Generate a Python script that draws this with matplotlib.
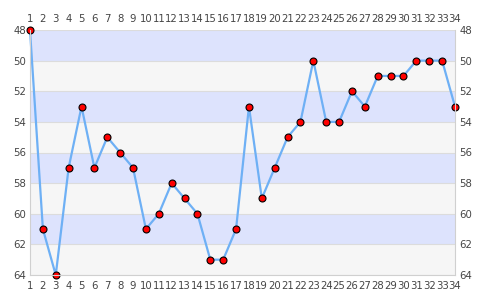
import matplotlib
matplotlib.use("Agg")
import matplotlib.pyplot as plt

x_vals = list(range(1, 35))
y_vals = [48, 61, 64, 57, 53, 57, 55, 56, 57, 61, 60, 58, 59, 60, 63, 63, 61,
          53, 59, 57, 55, 54, 50, 54, 54, 52, 53, 51, 51, 51, 50, 50, 50, 53]
y_ticks = [48, 50, 52, 54, 56, 58, 60, 62, 64]

fig = plt.figure(figsize=(4.85, 3.0), dpi=100)
ax = fig.add_axes([30/485, 25/300, 425/485, 245/300])

# alternating bands
for i in range(len(y_ticks) - 1):
    col = '#dde3fd' if i % 2 == 0 else '#f6f6f6'
    ax.axhspan(y_ticks[i], y_ticks[i+1], color=col, zorder=0, lw=0)
for t in y_ticks:
    ax.axhline(t, color='#dcdcdc', lw=0.8, zorder=1)

ax.plot(x_vals, y_vals, color='#6eb0f5', lw=1.6, zorder=2,
        marker='o', markersize=5, markerfacecolor='#ff0000',
        markeredgecolor='black', markeredgewidth=0.8, clip_on=False)

ax.set_xlim(1, 34)
ax.set_ylim(64, 48)
ax.set_yticks(y_ticks)
ax.set_xticks(x_vals)
ax.tick_params(axis='both', length=0, labelsize=7.3, colors='#444444', pad=3)
ax.tick_params(axis='x', labeltop=True, labelbottom=True, pad=4)
ax.tick_params(axis='y', labelleft=True, labelright=True)
for s in ax.spines.values():
    s.set_color('#d0d0d0')
    s.set_linewidth(0.8)
ax.spines['top'].set_visible(False)

fig.savefig('out.png', dpi=100)
